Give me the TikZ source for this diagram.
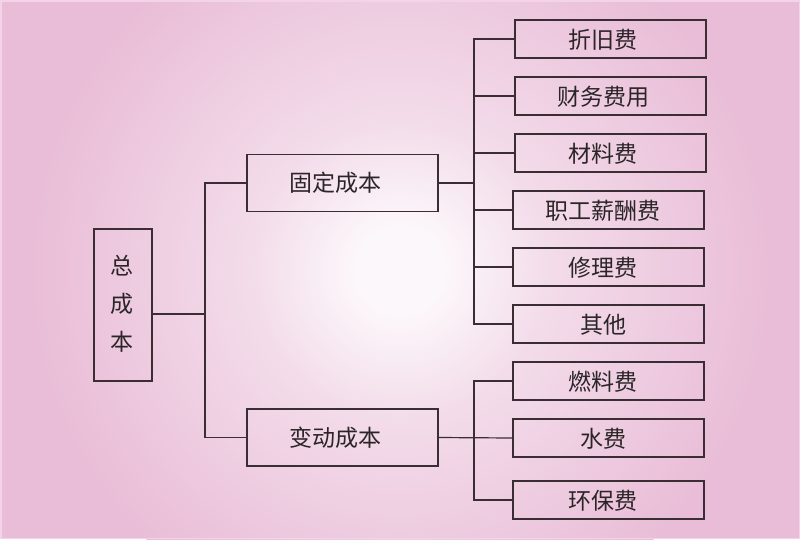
\documentclass[tikz,border=0pt]{standalone}
\usepackage{fontspec}
\setmainfont{Noto Sans CJK SC}
\usetikzlibrary{positioning}
\definecolor{bgin}{HTML}{FCF7FA}
\definecolor{bgmid}{HTML}{F3DCEA}
\definecolor{bgout}{HTML}{E9BDD7}
\definecolor{edgecol}{HTML}{F2D4E6}
\definecolor{linecol}{HTML}{3A2E34}
\definecolor{txtcol}{HTML}{2B2528}
\pgfdeclareradialshading{bgshade}{\pgfpointorigin}{color(0bp)=(bgin); color(3bp)=(bgin); color(10bp)=(bgmid); color(25bp)=(bgout); color(50bp)=(bgout)}
\tikzset{
  box/.style={draw=linecol, line width=1.2pt, inner sep=0pt, minimum width=191pt},
  leaf/.style={box, minimum height=38pt},
  mid/.style={box, minimum height=57pt},
  txt/.style={text=txtcol, font=\fontsize{23}{23}\selectfont, inner sep=0pt},
  conn/.style={draw=linecol, line width=1.2pt}
}
\begin{document}
\begin{tikzpicture}[x=1pt,y=-1pt]
\useasboundingbox (0,0) rectangle (800,539);
\begin{scope}
\clip (0,0) rectangle (800,539);
\fill[bgout] (0,0) rectangle (800,539);
\shade[shading=bgshade] (400,270) circle (370);
\end{scope}
\draw[edgecol, line width=1.5pt] (0.75,0.75) rectangle (799.25,538.25);

% root
\node[box, minimum width=58pt, minimum height=152pt] (zong) at (123,305) {};
\node[txt, align=center, font=\fontsize{23}{38}\selectfont] (zongt) at (122,304) {总\\成\\本};

% mid level
\node[mid] (gd) at (342.5,183) {};
\node[txt] (gdt) at ([xshift=-7.5pt]gd.center) {固定成本};
\node[mid] (bd) at (342.5,437.5) {};
\node[txt] (bdt) at ([xshift=-7.5pt]bd.center) {变动成本};

% leaves
\node[leaf] (l1) at (610.5,39) {};
\node[leaf] (l2) at (610.5,96) {};
\node[leaf] (l3) at (610.5,153) {};
\node[leaf] (l4) at (608.5,210) {};
\node[leaf] (l5) at (608.5,267) {};
\node[leaf] (l6) at (608.5,324) {};
\node[leaf] (l7) at (608.5,381) {};
\node[leaf] (l8) at (608.5,438) {};
\node[leaf] (l9) at (608.5,500) {};
\node[txt] (t1) at (603,40) {折旧费};
\node[txt] (t2) at (603,97) {财务费用};
\node[txt] (t3) at (603,154) {材料费};
\node[txt] (t4) at (603,211) {职工薪酬费};
\node[txt] (t5) at (603,268) {修理费};
\node[txt] (t6) at (603,325) {其他};
\node[txt] (t7) at (603,382) {燃料费};
\node[txt] (t8) at (603,439) {水费};
\node[txt] (t9) at (603,501) {环保费};

% trunk coordinates
\coordinate (rootj) at (205,314);
\coordinate (gdj) at (474,183);
\coordinate (bdj) at (474,438);

% root connectors
\draw[conn] ([yshift=-9pt]zong.east) -- (rootj);
\draw[conn] (gd.west) -| (rootj) |- (bd.west);

% fixed cost connectors
\draw[conn] (gd.east) -- (gdj);
\draw[conn] (l1.west) -| (gdj) |- (l6.west);
\draw[conn] (l2.west) -- (l2.west -| gdj);
\draw[conn] (l3.west) -- (l3.west -| gdj);
\draw[conn] (l4.west) -- (l4.west -| gdj);
\draw[conn] (l5.west) -- (l5.west -| gdj);

% variable cost connectors
\draw[conn] (bd.east) -- (l8.west);
\draw[conn] (l7.west) -| (bdj) |- (l9.west);
\end{tikzpicture}
\end{document}
